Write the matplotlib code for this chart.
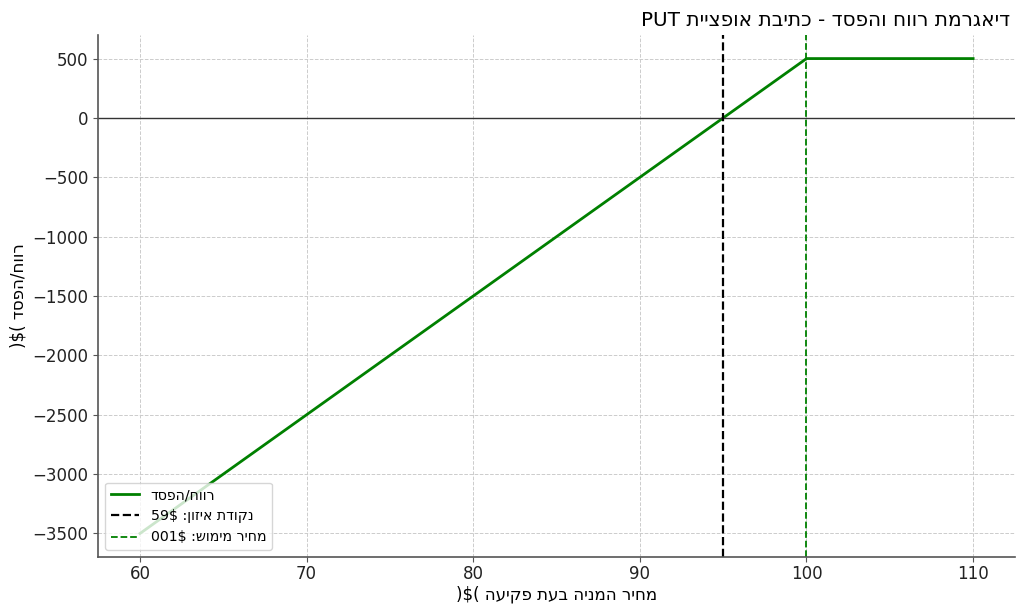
import matplotlib
matplotlib.use("Agg")
import matplotlib.pyplot as plt

# Data
stock_prices = [60, 100, 110]
profit_loss = [-3500, 500, 500]
breakeven = 95
strike = 100
x_ticks = [60, 70, 80, 90, 100, 110]
y_ticks = [-3500, -3000, -2500, -2000, -1500, -1000, -500, 0, 500]

# Texts (visual glyph order, as in the reference)
title_text = "PUT " + "דיאגרמת רווח והפסד - כתיבת אופציית"[::-1]
xlabel_text = "מחיר המניה בעת פקיעה ($)"[::-1]
ylabel_text = "רווח/הפסד ($)"[::-1]
legend_pl = "רווח/הפסד"[::-1]
legend_be = "נקודת איזון: $95"[::-1]
legend_st = "מחיר מימוש: $100"[::-1]

plt.rcParams['font.family'] = ['DejaVu Sans']

fig, ax = plt.subplots(figsize=(10.24, 6.11), dpi=100)
fig.subplots_adjust(left=0.096, right=0.991, top=0.943, bottom=0.088)

ax.plot(stock_prices, profit_loss, color='green', linewidth=2, label=legend_pl)
ax.axhline(0, color='#333333', linewidth=1)
ax.axvline(breakeven, color='black', linestyle='--', linewidth=1.6, label=legend_be)
ax.axvline(strike, color='green', linestyle='--', linewidth=1.3, label=legend_st)

ax.set_title(title_text, loc='right', fontsize=14.4, x=0.995)
ax.set_xlabel(xlabel_text, fontsize=12, labelpad=2)
ax.set_ylabel(ylabel_text, fontsize=12)

ax.set_xticks(x_ticks)
ax.set_yticks(y_ticks)
ax.tick_params(axis='both', labelsize=12, colors='#555555', labelcolor='#222222')
ax.tick_params(axis='x', pad=2)

ax.grid(True, linestyle='--', color='#cccccc', linewidth=0.7)
ax.spines['top'].set_visible(False)
ax.spines['right'].set_visible(False)
ax.spines['left'].set_color('#555555')
ax.spines['bottom'].set_color('#555555')
ax.spines['left'].set_linewidth(1.2)
ax.spines['bottom'].set_linewidth(1.2)

ax.legend(loc='lower left', fontsize=10.2)

fig.savefig("out.png", dpi=100)
